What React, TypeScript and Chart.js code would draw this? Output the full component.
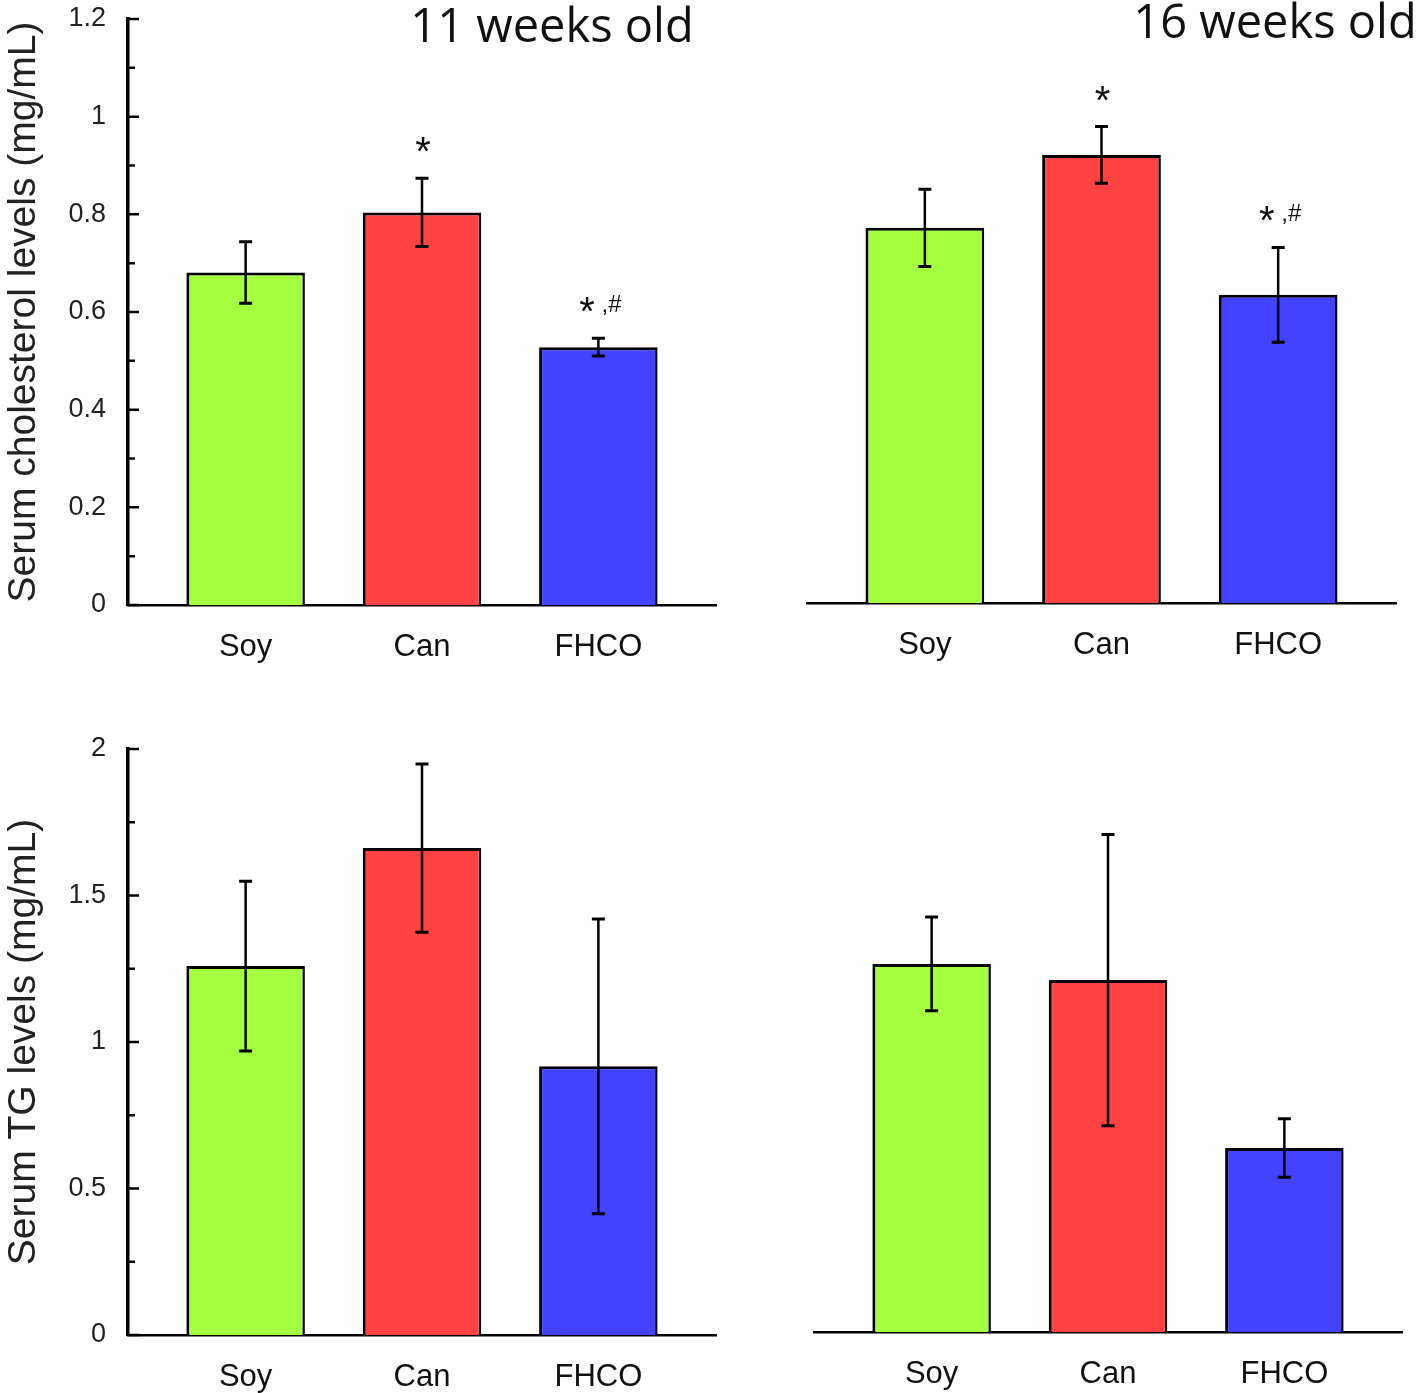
import { useEffect, useRef } from "react";
import { Chart, registerables } from "chart.js";
Chart.register(...registerables);

// ---- data ----
const categories = ["Soy", "Can", "FHCO"];
const barColors = ["#a3ff3f", "#ff4242", "#4242ff"];

const chol11 = [0.681, 0.804, 0.528];
const chol11Err = [0.063, 0.07, 0.018];
const chol11Marks = ["", "*", "* ,#"];

const chol16 = [0.767, 0.916, 0.63];
const chol16Err = [0.079, 0.058, 0.097];
const chol16Marks = ["", "*", "* ,#"];

const tg11 = [1.259, 1.662, 0.917];
const tg11Err = [0.29, 0.287, 0.503];
const tg11Marks = ["", "", ""];

const tg16 = [1.256, 1.201, 0.628];
const tg16Err = [0.16, 0.497, 0.1];
const tg16Marks = ["", "", ""];

const cholTitle = "Serum cholesterol levels (mg/mL)";
const tgTitle = "Serum TG levels (mg/mL)";
const title11 = "11 weeks old";
const title16 = "16 weeks old";

const W = 1418;
const H = 1393;
const SANS = "'Liberation Sans', Arial, sans-serif";
const TITLE_FONT = "'Open Sans', 'Noto Sans', sans-serif";

type Panel = {
  values: number[];
  errors: number[];
  marks: string[];
  yMax: number;
  yStep: number;
  showY: boolean;
  yTitle: string;
  title: string;
  titleX: number;
  titleY: number;
  left: number;
  right: number;
  top: number;
  bottom: number;
};

const panels: Panel[] = [
  { values: chol11, errors: chol11Err, marks: chol11Marks, yMax: 1.2, yStep: 0.2, showY: true, yTitle: cholTitle, title: title11, titleX: 552, titleY: 29, left: 128, right: 716, top: 19, bottom: 605 },
  { values: chol16, errors: chol16Err, marks: chol16Marks, yMax: 1.2, yStep: 0.2, showY: false, yTitle: "", title: title16, titleX: 1275, titleY: 25, left: 807, right: 1396, top: 16, bottom: 603 },
  { values: tg11, errors: tg11Err, marks: tg11Marks, yMax: 2, yStep: 0.5, showY: true, yTitle: tgTitle, title: "", titleX: 0, titleY: 0, left: 128, right: 716, top: 749, bottom: 1335 },
  { values: tg16, errors: tg16Err, marks: tg16Marks, yMax: 2, yStep: 0.5, showY: false, yTitle: "", title: "", titleX: 0, titleY: 0, left: 814, right: 1402, top: 746, bottom: 1332 },
];

function makeConfig(p: Panel): any {
  const xAxisH = Math.min(80, H - p.bottom);
  const decor = {
    id: "decor",
    afterDatasetsDraw(chart: any) {
      const { ctx, chartArea } = chart;
      const x = chart.scales.x;
      const y = chart.scales.y;
      ctx.save();
      // error bars
      ctx.strokeStyle = "#000";
      ctx.lineCap = "butt";
      p.values.forEach((v, i) => {
        const px = x.getPixelForValue(i);
        const t = y.getPixelForValue(v + p.errors[i]);
        const b = y.getPixelForValue(v - p.errors[i]);
        ctx.lineWidth = 2.5;
        ctx.beginPath();
        ctx.moveTo(px, t);
        ctx.lineTo(px, b);
        ctx.stroke();
        ctx.lineWidth = 3;
        ctx.beginPath();
        ctx.moveTo(px - 6.5, t);
        ctx.lineTo(px + 6.5, t);
        ctx.moveTo(px - 6.5, b);
        ctx.lineTo(px + 6.5, b);
        ctx.stroke();
        const m = p.marks[i];
        if (m) {
          ctx.fillStyle = "#111";
          ctx.textBaseline = "middle";
          const star = m.charAt(0);
          const rest = m.slice(1);
          const cy = t - 32;
          if (rest) {
            ctx.font = `40px ${SANS}`;
            const sw = ctx.measureText(star).width;
            ctx.font = `24px ${SANS}`;
            const rw = ctx.measureText(rest).width;
            const x0 = px + 2 - (sw + rw) / 2;
            ctx.textAlign = "left";
            ctx.font = `40px ${SANS}`;
            ctx.fillText(star, x0, cy + 8);
            ctx.font = `24px ${SANS}`;
            ctx.fillText(rest, x0 + sw, cy - 1);
          } else {
            ctx.textAlign = "center";
            ctx.font = `40px ${SANS}`;
            ctx.fillText(star, px + 1, cy + 8);
          }
        }
      });
      // inward y ticks (major + minor)
      if (p.showY) {
        const ticks = y.ticks.map((t: any) => t.value);
        ctx.lineWidth = 2.5;
        ctx.beginPath();
        ticks.forEach((tv: number, k: number) => {
          const py = y.getPixelForValue(tv);
          ctx.moveTo(chartArea.left, py);
          ctx.lineTo(chartArea.left + 11, py);
          if (k < ticks.length - 1) {
            const my = y.getPixelForValue((tv + ticks[k + 1]) / 2);
            ctx.moveTo(chartArea.left, my);
            ctx.lineTo(chartArea.left + 7, my);
          }
        });
        ctx.stroke();
      }
      // panel title
      if (p.title) {
        ctx.fillStyle = "#111";
        ctx.font = `47px ${TITLE_FONT}`;
        ctx.textAlign = "center";
        ctx.textBaseline = "middle";
        ctx.fillText(p.title, p.titleX, p.titleY);
      }
      ctx.restore();
    },
  };

  return {
    type: "bar",
    data: {
      datasets: [
        {
          data: p.values.map((v, i) => ({ x: i, y: v })),
          backgroundColor: barColors,
          borderColor: "#000",
          borderWidth: { top: 3, left: 3, right: 2.5, bottom: 0 },
          borderSkipped: "bottom",
          categoryPercentage: 1,
          barPercentage: 0.672,
        },
      ],
    },
    options: {
      responsive: false,
      animation: false,
      devicePixelRatio: 1,
      layout: {
        padding: {
          left: p.showY ? 0 : p.left,
          top: p.top,
          right: W - p.right,
          bottom: H - p.bottom - xAxisH,
        },
      },
      plugins: { legend: { display: false }, tooltip: { enabled: false }, title: { display: false } },
      scales: {
        x: {
          type: "linear",
          min: -0.667,
          max: 2.667,
          offset: false,
          grid: { display: false, drawTicks: false },
          border: { display: true, color: "#000", width: 2.5 },
          afterBuildTicks: (s: any) => {
            s.ticks = categories.map((_, i) => ({ value: i }));
          },
          afterFit: (s: any) => {
            s.height = xAxisH;
            s.paddingLeft = 0;
            s.paddingRight = 0;
          },
          ticks: {
            callback: (v: number) => categories[v],
            font: { family: SANS, size: 31 },
            color: "#111",
            padding: 24,
            maxRotation: 0,
            autoSkip: false,
          },
        },
        y: {
          display: p.showY,
          min: 0,
          max: p.yMax,
          grid: { display: false, drawTicks: false },
          border: { display: true, color: "#000", width: 3.5 },
          ticks: {
            stepSize: p.yStep,
            font: { family: SANS, size: 27 },
            color: "#222",
            padding: 22,
            callback: (v: number) => String(Number(Number(v).toFixed(2))),
          },
          title: {
            display: !!p.yTitle,
            text: p.yTitle,
            color: "#222",
            font: { family: SANS, size: 39 },
            padding: { top: 1, bottom: 0 },
          },
          afterFit: (s: any) => {
            if (p.showY) s.width = p.left;
            s.paddingTop = 0;
            s.paddingBottom = 0;
          },
        },
      },
    },
    plugins: [decor],
  };
}

function PanelChart({ p }: { p: Panel }) {
  const ref = useRef<HTMLCanvasElement | null>(null);
  useEffect(() => {
    if (!ref.current) return;
    const chart = new Chart(ref.current, makeConfig(p));
    return () => chart.destroy();
  }, [p]);
  return (
    <canvas
      ref={ref}
      width={W}
      height={H}
      style={{ position: "absolute", left: 0, top: 0, width: W, height: H }}
    />
  );
}

export default function App() {
  return (
    <div style={{ position: "absolute", left: 0, top: 0, width: W, height: H, background: "#fff" }}>
      {panels.map((p, i) => (
        <PanelChart key={i} p={p} />
      ))}
    </div>
  );
}
